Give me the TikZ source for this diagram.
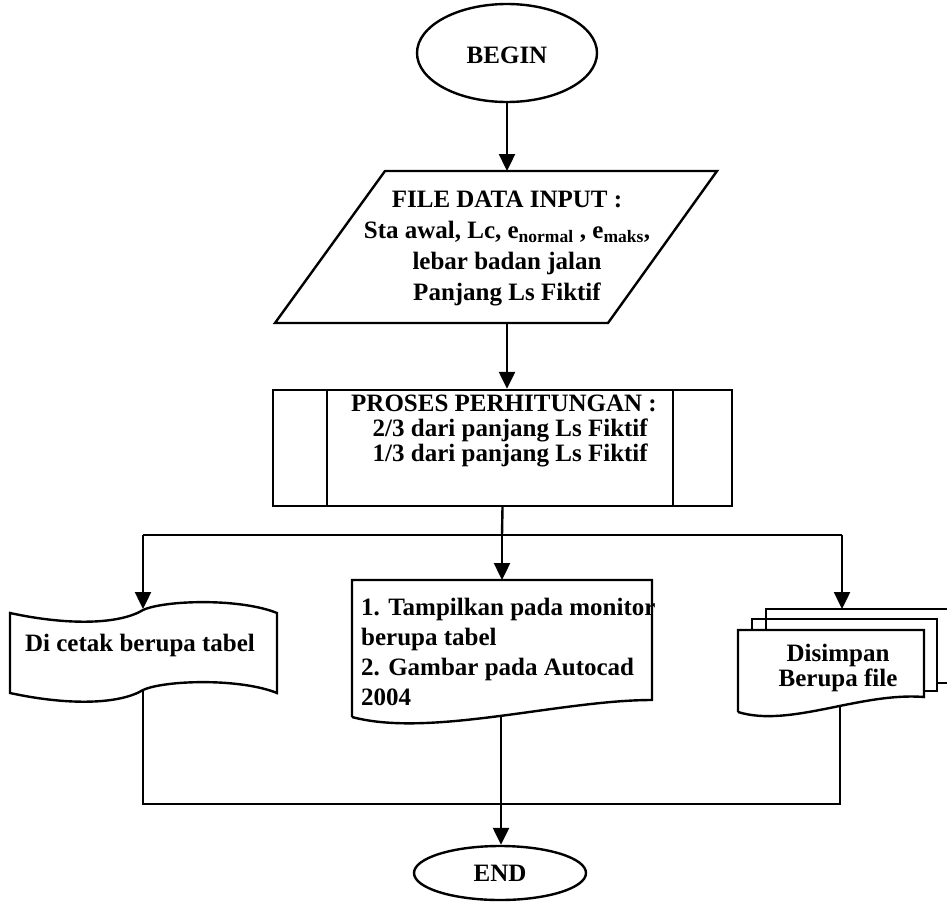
\documentclass[tikz,border=0pt]{standalone}
\usepackage{fontspec}
\setmainfont{Liberation Serif}
\usetikzlibrary{shapes.geometric,arrows.meta}

\begin{document}
\begin{tikzpicture}[x=1pt,y=-1pt,
  line/.style={line width=2.4pt, line join=miter},
  flow/.style={line, -{Triangle[length=17pt,width=16pt]}},
  term/.style={ellipse, draw, line, inner sep=0pt},
  txt/.style={inner sep=0pt, font=\fontsize{25}{#1}\selectfont\bfseries},
  txt/.default=30
]
\useasboundingbox (0,0) rectangle (947,902);
\fill[white] (0,0) rectangle (947,902);
\clip (0,0) rectangle (947,902);

% start / end terminals
\node[term, minimum width=180pt, minimum height=98pt] (begin) at (507,53) {};
\node[txt] (begintxt) at (507,55) {BEGIN};
\node[term, minimum width=172pt, minimum height=54pt] (end) at (500,873) {};
\node[txt] (endtxt) at (500,873) {END};

% input parallelogram
\coordinate (pTL) at (385,171);
\coordinate (pTR) at (717,171);
\coordinate (pBR) at (608,323);
\coordinate (pBL) at (275,323);
\coordinate (inTop) at (507,171);
\coordinate (inBot) at (507,323);
\draw[line] (pTL) -- (pTR) -- (pBR) -- (pBL) -- cycle;
\node[txt=31, align=center] (inp) at (507,249)
  {FILE DATA INPUT :\\
   Sta awal, Lc, e\textsubscript{normal} , e\textsubscript{maks},\\
   lebar badan jalan\\
   Panjang Ls Fiktif};

% predefined process
\node[draw, line, minimum width=459pt, minimum height=116pt] (proc) at (502.5,448) {};
\draw[line] ([xshift=55pt]proc.north west) -- ([xshift=55pt]proc.south west);
\draw[line] ([xshift=-60pt]proc.north east) -- ([xshift=-60pt]proc.south east);
\node[txt=25, align=center] (proctxt) at (504,431)
  {PROSES PERHITUNGAN :\\
   \ \ 2/3 dari panjang Ls Fiktif\\
   \ \ 1/3 dari panjang Ls Fiktif};

% branching
\coordinate (split) at (502,535);
\coordinate (splitL) at (143,535);
\coordinate (splitR) at (842,535);

% punched tape output (left)
\draw[line] (10,613) .. controls (70,626) and (120,624) .. (143,610)
  .. controls (165,600) and (240,598) .. (277,613)
  -- (277,693)
  .. controls (240,678) and (165,680) .. (143,690)
  .. controls (120,704) and (70,706) .. (10,693) -- cycle;
\coordinate (tapeTop) at (143,609);
\coordinate (tapeBot) at (143,690);
\node[txt] (tapetxt) at (140,645) {Di cetak berupa tabel};

% document output (middle)
\draw[line] (352,717) -- (352,580) -- (652,580) -- (652,700)
  .. controls (560,700) and (430,738) .. (352,717);
\coordinate (monTop) at (502,580);
\coordinate (monBot) at (501,716);
\node[txt, align=left, anchor=west] (montxt) at (361,652)
  {1. Tampilkan pada monitor\\
   berupa tabel\\
   2. Gambar pada Autocad\\
   2004};

% multi-document output (right)
\draw[line] (766,630) -- (766,609) -- (958,609) -- (958,683) -- (937,683);
\draw[line] (752,630) -- (752,619) -- (937,619) -- (937,691) -- (924,691);
\draw[line] (738,712) -- (738,630) -- (924,630) -- (924,697)
  .. controls (860,692) and (790,728) .. (738,712);
\coordinate (fileTop) at (842,609);
\coordinate (fileBot) at (840,707);
\node[txt=25, align=center] (filetxt) at (838,668) {Disimpan\\Berupa file};

% merge
\coordinate (jL) at (143,804);
\coordinate (jR) at (840,804);

% connectors
\draw[flow] (begin.south) -- (inTop);
\draw[flow] (inBot) -- (inBot |- proc.north);
\draw[line] (proc.south) -- (split);
\draw[line] (splitL) -- (splitR);
\draw[flow] (splitL) -- (tapeTop);
\draw[flow] (split) -- (monTop);
\draw[flow] (splitR) -- (fileTop);
\draw[line] (tapeBot) -- (jL) -- (jR) -- (fileBot);
\draw[flow] (monBot) -- (monBot |- end.north);
\end{tikzpicture}
\end{document}
